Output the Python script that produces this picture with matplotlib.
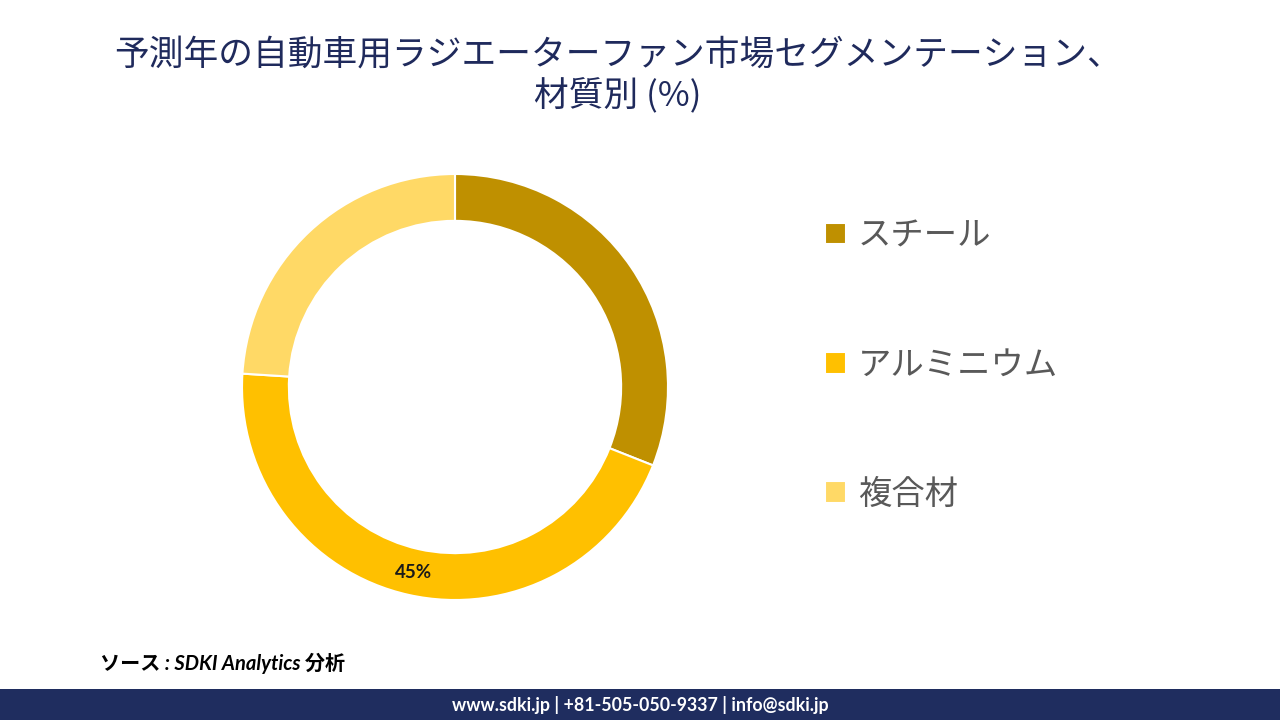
import matplotlib
matplotlib.use("Agg")
import matplotlib.pyplot as plt
import numpy as np

plt.rcParams['font.family'] = ['Noto Sans CJK JP', 'DejaVu Sans']

materials = ["スチール", "アルミニウム", "複合材"]
shares = [31, 45, 24]
colors = ["#BF9000", "#FFC000", "#FFD966"]
shown_labels = ["", "45%", ""]

title = "予測年の自動車用ラジエーターファン市場セグメンテーション、\n材質別 (%)"
source = "ソース : SDKI Analytics 分析"
footer = "www.sdki.jp | +81-505-050-9337 | info@sdki.jp"

W, H = 1280, 720
fig = plt.figure(figsize=(12.8, 7.2), dpi=100)

# donut, centre ~ (455, 387), outer radius ~213 px
cx, cy, r = 455, 387, 213
ax = fig.add_axes([(cx - r) / W, (H - cy - r) / H, 2 * r / W, 2 * r / H])
wedges, _ = ax.pie(shares, colors=colors, startangle=90, counterclock=False,
                   radius=1.0, wedgeprops=dict(width=0.22, edgecolor="white", linewidth=1.5))
ax.set_xlim(-1, 1)
ax.set_ylim(-1, 1)
ax.set_aspect("equal")
ax.axis("off")

# only the aluminium slice carries a label, in the middle of the ring
for w, lab in zip(wedges, shown_labels):
    if lab:
        ang = np.deg2rad((w.theta1 + w.theta2) / 2)
        ax.text(0.89 * np.cos(ang), 0.89 * np.sin(ang), lab, ha="center", va="center",
                fontsize=13.5, fontweight="bold", color="#1a1a1a", family=["Lato", "DejaVu Sans"])

fig.legend(wedges, materials, loc="upper left", bbox_to_anchor=(812 / W, 1 - 205 / H),
           frameon=False, fontsize=24, labelcolor="#595959", handlelength=0.62, handleheight=0.62,
           handletextpad=0.35, labelspacing=2.83, borderaxespad=0)

fig.text(618 / W, 1 - 76 / H, title, ha="center", va="center", fontsize=25,
         color="#1F2A5C", linespacing=1.25)

fig.text(100 / W, 1 - 663 / H, source, ha="left", va="center", fontsize=14.5,
         fontweight="bold", style="italic", color="black", family=["Lato", "Noto Sans CJK JP"])

bar = fig.add_axes([0, 0, 1, 31 / H])
bar.set_facecolor("#1F2D5F")
bar.set_xticks([])
bar.set_yticks([])
for s in bar.spines.values():
    s.set_visible(False)
bar.text(0.5, 0.5, footer, ha="center", va="center", fontsize=12.8, fontweight="bold",
         color="white", family=["Lato", "DejaVu Sans"], transform=bar.transAxes)

fig.savefig("out.png", dpi=100)
